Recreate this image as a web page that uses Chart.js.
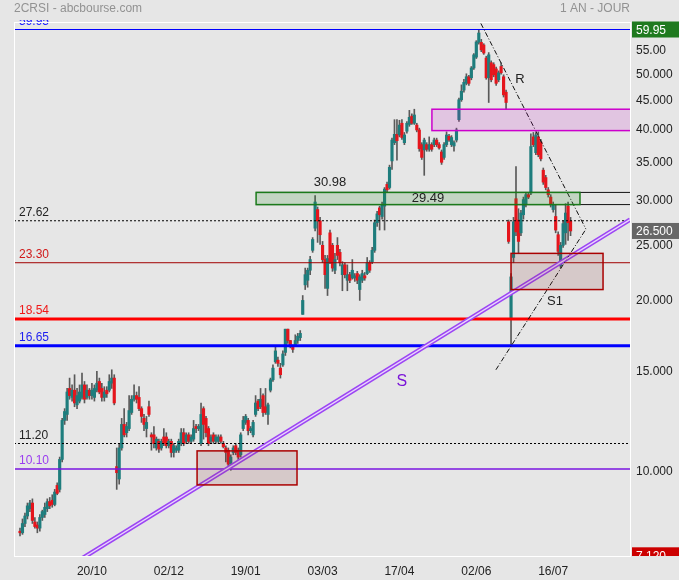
<!DOCTYPE html>
<html>
<head>
<meta charset="utf-8">
<title>2CRSI - abcbourse.com</title>
<script src="https://cdn.jsdelivr.net/npm/chart.js@4.4.1/dist/chart.umd.min.js"></script>
<style>
  html, body { margin: 0; padding: 0; background: #e6e6e6; }
  canvas { display: block; }
</style>
</head>
<body>
<canvas id="priceChart" width="679" height="580"></canvas>
<script>
// daily candles (one year, oldest first)
const open = [
  7.85, 7.80, 8.10, 8.35, 8.60, 8.80, 8.15, 8.05, 7.95, 8.30,
  8.40, 8.60, 8.85, 8.90, 8.75, 9.45, 9.30, 10.50, 12.30, 12.60,
  14.00, 13.50, 13.90, 13.10, 13.30, 13.50, 14.20, 13.50, 13.90, 13.60,
  13.50, 13.90, 14.40, 14.00, 13.50, 13.90, 13.90, 14.30, 14.60, 10.20,
  9.70, 11.00, 12.10, 11.70, 11.90, 12.70, 13.40, 13.60, 13.50, 12.90,
  12.40, 11.90, 13.00, 11.60, 11.60, 11.00, 11.30, 11.00, 11.50, 11.50,
  11.10, 11.30, 10.80, 10.90, 10.90, 11.20, 11.70, 11.30, 11.60, 11.30,
  11.40, 12.00, 11.90, 11.20, 12.90, 12.40, 11.90, 11.30, 11.60, 11.30,
  11.30, 11.50, 11.20, 11.00, 10.90, 10.30, 10.80, 11.10, 10.90, 10.70,
  11.90, 12.20, 12.30, 11.80, 11.60, 12.60, 13.30, 13.00, 13.60, 13.00,
  12.60, 13.90, 14.50, 15.60, 15.70, 15.20, 15.40, 16.20, 17.80, 17.00,
  16.60, 16.70, 17.00, 17.20, 18.90, 21.30, 21.70, 22.60, 24.50, 26.80,
  28.90, 27.60, 25.00, 23.60, 21.00, 26.30, 25.00, 22.60, 25.00, 24.30,
  22.20, 23.10, 21.70, 22.20, 21.90, 21.90, 22.30, 20.90, 21.70, 22.10,
  22.30, 23.30, 23.40, 24.50, 27.40, 29.10, 28.10, 29.30, 32.00, 31.60,
  35.20, 37.90, 39.20, 39.10, 41.00, 37.90, 39.70, 40.80, 42.20, 41.00,
  40.70, 39.90, 37.60, 36.80, 37.60, 36.90, 37.60, 37.60, 38.30, 37.60,
  36.50, 35.70, 37.60, 38.90, 37.60, 37.40, 38.30, 41.60, 45.10, 46.90,
  48.20, 49.50, 49.30, 51.30, 53.60, 56.90, 56.90, 56.30, 53.40, 49.30,
  52.40, 52.00, 51.10, 48.90, 51.60, 49.50, 46.50, 27.50, 18.60, 23.80,
  30.20, 27.70, 26.30, 28.30, 29.50, 30.70, 30.90, 38.80, 36.40, 38.80,
  38.00, 33.90, 32.90, 31.30, 30.40, 28.90, 28.10, 26.10, 23.00, 25.00,
  26.30, 29.30, 27.60
];
const high = [
  7.95, 8.25, 8.45, 8.80, 8.90, 8.95, 8.30, 8.15, 8.40, 8.55,
  8.80, 8.95, 9.00, 9.10, 9.30, 9.55, 10.60, 12.40, 12.90, 14.00,
  14.60, 14.20, 14.80, 14.00, 14.20, 14.90, 14.40, 14.20, 14.00, 14.30,
  14.20, 15.00, 14.60, 14.30, 14.10, 14.10, 14.80, 15.10, 14.80, 11.00,
  11.20, 12.40, 12.90, 12.20, 13.60, 13.60, 14.20, 13.80, 14.10, 13.00,
  12.60, 12.50, 13.30, 11.70, 12.00, 11.50, 11.40, 11.40, 11.90, 11.70,
  11.40, 11.40, 11.20, 11.10, 11.40, 11.90, 11.90, 11.70, 11.70, 11.60,
  12.30, 12.10, 12.10, 13.20, 13.00, 12.50, 12.00, 11.60, 11.70, 11.60,
  11.60, 11.60, 11.30, 11.10, 11.00, 10.70, 11.10, 11.20, 11.00, 11.70,
  12.50, 12.60, 12.40, 12.00, 12.30, 13.60, 13.40, 14.00, 13.70, 14.00,
  13.20, 14.60, 15.40, 16.60, 15.90, 15.50, 16.30, 17.80, 17.80, 17.00,
  16.70, 17.40, 17.50, 17.70, 20.40, 22.80, 22.80, 23.90, 25.80, 30.60,
  29.20, 28.00, 25.40, 24.00, 24.00, 26.60, 25.20, 24.20, 25.80, 24.60,
  23.40, 23.30, 23.10, 22.40, 23.60, 22.30, 22.50, 22.20, 22.60, 22.40,
  23.80, 23.50, 24.80, 27.70, 28.70, 29.30, 29.80, 31.60, 32.30, 34.60,
  38.60, 41.60, 41.60, 41.50, 41.60, 39.50, 41.30, 43.20, 42.60, 43.40,
  41.00, 40.20, 37.90, 38.60, 37.90, 38.80, 37.90, 38.60, 38.60, 37.90,
  36.80, 37.90, 39.60, 39.20, 39.00, 38.20, 40.20, 45.40, 47.90, 49.00,
  50.10, 49.80, 51.60, 54.40, 57.30, 59.95, 57.60, 56.60, 53.80, 54.60,
  52.80, 52.40, 51.50, 50.70, 52.40, 49.90, 46.90, 27.70, 22.30, 28.00,
  34.40, 29.00, 28.80, 30.40, 31.00, 30.90, 39.30, 39.50, 39.50, 39.60,
  38.40, 34.20, 33.20, 31.60, 30.70, 29.80, 29.50, 26.40, 25.30, 27.60,
  29.60, 29.80, 28.00
];
const low = [
  7.70, 7.75, 8.00, 8.25, 8.50, 8.10, 7.95, 7.80, 7.85, 8.20,
  8.30, 8.50, 8.60, 8.65, 8.70, 9.10, 9.20, 10.40, 12.10, 12.30,
  13.40, 13.30, 13.00, 12.90, 13.20, 13.40, 13.20, 13.40, 13.40, 13.40,
  13.30, 13.80, 13.70, 13.30, 13.30, 13.50, 13.80, 14.00, 13.10, 9.30,
  9.50, 10.90, 11.50, 11.50, 11.80, 12.60, 13.30, 13.20, 12.80, 12.20,
  11.80, 11.50, 12.50, 10.90, 11.00, 10.90, 10.80, 10.90, 11.10, 11.00,
  11.00, 10.60, 10.60, 10.80, 10.80, 11.10, 11.10, 11.20, 11.20, 11.20,
  11.30, 11.70, 11.80, 11.10, 11.40, 11.50, 11.10, 11.20, 11.20, 11.20,
  11.20, 11.20, 11.00, 10.40, 10.10, 10.05, 10.70, 10.70, 10.50, 10.60,
  11.80, 12.10, 11.60, 11.70, 11.50, 12.50, 12.80, 12.90, 12.50, 12.60,
  12.10, 13.80, 14.40, 15.50, 15.30, 14.60, 15.30, 16.00, 16.80, 16.50,
  16.20, 16.60, 16.80, 17.00, 18.90, 20.90, 21.10, 22.20, 24.30, 26.50,
  25.30, 25.10, 23.30, 21.00, 20.40, 23.20, 22.50, 22.30, 23.60, 23.00,
  20.80, 21.90, 20.80, 21.50, 21.80, 21.60, 21.40, 20.00, 21.50, 21.70,
  22.20, 22.40, 23.20, 24.30, 27.00, 26.60, 27.80, 26.60, 31.00, 31.40,
  34.00, 37.60, 35.30, 38.80, 38.40, 37.60, 39.40, 40.50, 40.80, 40.80,
  39.60, 36.60, 35.40, 33.20, 36.60, 36.60, 36.60, 37.30, 37.30, 36.90,
  34.70, 35.40, 37.30, 38.10, 37.30, 36.60, 38.00, 41.30, 44.80, 46.50,
  47.90, 47.80, 48.90, 51.00, 53.30, 56.50, 54.80, 54.20, 49.00, 44.60,
  48.50, 49.50, 47.80, 48.50, 50.00, 45.60, 43.30, 25.20, 16.60, 23.30,
  26.00, 24.20, 26.00, 27.80, 29.20, 30.20, 30.70, 37.30, 36.10, 35.80,
  35.20, 32.00, 31.30, 30.40, 29.20, 28.60, 26.30, 24.00, 22.80, 24.80,
  25.10, 25.50, 26.00
];
const close = [
  7.80, 8.10, 8.35, 8.70, 8.80, 8.20, 8.00, 7.95, 8.30, 8.50,
  8.65, 8.85, 8.70, 8.75, 9.20, 9.15, 10.50, 12.30, 12.75, 13.80,
  13.60, 13.90, 13.20, 13.60, 13.80, 14.20, 13.40, 13.90, 13.60, 13.90,
  14.00, 14.30, 13.80, 13.50, 13.80, 13.70, 14.40, 14.60, 13.20, 9.95,
  11.00, 12.10, 11.60, 12.00, 12.80, 13.40, 13.60, 13.40, 12.90, 12.50,
  12.10, 12.20, 12.60, 11.50, 11.20, 11.40, 10.95, 11.30, 11.20, 11.10,
  11.30, 10.80, 11.10, 11.00, 11.30, 11.70, 11.20, 11.60, 11.30, 11.50,
  11.90, 11.90, 12.00, 12.60, 12.10, 11.70, 11.20, 11.50, 11.30, 11.50,
  11.50, 11.30, 11.05, 10.80, 10.30, 10.60, 11.00, 10.80, 10.60, 11.60,
  12.30, 12.50, 11.80, 11.90, 12.20, 13.20, 12.90, 13.40, 12.70, 12.70,
  13.10, 14.50, 15.20, 16.30, 15.50, 14.80, 16.10, 17.80, 17.00, 16.70,
  16.40, 17.00, 17.30, 17.50, 20.00, 22.20, 22.60, 23.60, 25.60, 29.80,
  27.60, 26.10, 23.60, 22.20, 23.70, 23.40, 22.80, 23.60, 24.00, 23.30,
  23.10, 22.20, 22.20, 21.70, 22.60, 22.10, 21.70, 22.00, 22.30, 21.90,
  23.30, 22.60, 24.50, 27.40, 28.40, 28.30, 29.50, 31.40, 31.30, 34.30,
  38.30, 39.20, 38.20, 40.70, 38.70, 39.10, 41.00, 42.00, 41.00, 42.40,
  39.90, 37.00, 35.70, 38.30, 36.90, 37.60, 36.90, 38.30, 37.60, 37.10,
  35.00, 37.60, 39.10, 38.30, 38.70, 37.90, 39.90, 45.10, 46.70, 48.40,
  49.50, 48.20, 51.30, 54.10, 57.00, 59.10, 55.20, 54.50, 49.30, 54.10,
  48.90, 49.90, 48.20, 50.30, 50.30, 46.00, 44.60, 25.40, 22.00, 27.50,
  26.40, 25.40, 28.50, 30.10, 30.70, 30.40, 37.30, 37.60, 39.10, 36.10,
  35.50, 32.30, 31.60, 30.70, 29.50, 29.50, 26.60, 24.40, 25.00, 27.30,
  28.50, 27.40, 26.50
];

// axes
const dateTicks = [29, 60, 91, 122, 153, 184, 215];
const dateLabels = ['20/10', '02/12', '19/01', '03/03', '17/04', '02/06', '16/07'];
const priceTicks = [10, 15, 20, 25, 30, 35, 40, 45, 50, 55];
const priceLabels = ['10.000', '15.000', '20.000', '25.000', '30.000', '35.000', '40.000', '45.000', '50.000', '55.00'];

// horizontal levels drawn across the whole chart
const levelValues = [59.95, 27.62, 23.30, 18.54, 16.65, 11.20, 10.10];
const levelLabels = ['59.95', '27.62', '23.30', '18.54', '16.65', '11.20', '10.10'];

// the 29.49 / 30.98 band, starting at bar 95
const bandValues = [30.98, 29.49];
const bandStart = 95.2;

// shaded zones (bar index range, price range)
const zoneStart = [95.2, 166.1, 71.4, 198];
const zoneEnd = [225.8, 250, 111.7, 235.1];
const zoneLow = [29.49, 39.8, 9.47, 20.9];
const zoneHigh = [30.98, 43.4, 10.87, 24.2];

// trend lines (bar index, price)
const trendS = [{ x: 25, y: 7.03 }, { x: 246, y: 27.75 }];
const trendR = [{ x: 184, y: 63.7 }, { x: 228.2, y: 26.7 }];
const trendS1 = [{ x: 191.9, y: 15.1 }, { x: 228.2, y: 26.7 }];

// text notes on the chart (bar index, price)
const noteText = ['30.98', '29.49', 'R', 'S1', 'S'];
const noteX = [125, 164.5, 201.6, 215.7, 154];
const noteY = [32.3, 30.2, 49.0, 19.9, 14.4];

const lastPrice = 26.5;
const highPrice = 59.95;
const lowPrice = 7.12;

const X_MIN = -2.42, X_MAX = 245.97;
const Y_MIN = 7.1, Y_MAX = 61.8;

const TEAL = '#1e7d7d';
const RED = '#e5151c';
const FONT = '"Liberation Sans", Arial, sans-serif';

const levelColors = ['#0000ff', '#000000', '#a00000', '#ff0000', '#0000ff', '#000000', '#7a14e0'];
const levelWidths = [1.2, 1, 1, 3, 3, 1, 1.5];
const levelDash = [[], [2, 2], [], [], [], [2, 2], []];
const levelTextColors = ['#2020ff', '#222222', '#d01818', '#f01818', '#1c1cf0', '#222222', '#9a3cf0'];

const zoneFill = ['rgba(40,140,40,0.18)', 'rgba(200,0,200,0.14)', 'rgba(130,40,40,0.15)', 'rgba(130,40,40,0.15)'];
const zoneLine = ['#1a7a1a', '#cc00cc', '#aa0000', '#aa0000'];

const noteColors = ['#222', '#222', '#222', '#222', '#7a14d8'];
const noteFonts = ['13px', '13px', '13px', '13px', '16px'];

Chart.defaults.font.family = FONT;
Chart.defaults.font.size = 12;
Chart.defaults.color = '#333';

const idx = close.map((_, i) => i);

const datasets = [];

// candles: wicks then bodies
datasets.push({
  type: 'bar',
  data: idx.map(i => ({ x: i, y: [low[i], high[i]] })),
  backgroundColor: '#595959',
  barThickness: 1,
  grouped: false,
  order: 20
});
datasets.push({
  type: 'bar',
  data: idx.map(i => ({ x: i, y: [open[i], close[i]] })),
  backgroundColor: idx.map(i => close[i] >= open[i] ? TEAL : RED),
  barThickness: 2.5,
  minBarLength: 1,
  grouped: false,
  order: 19
});

levelValues.forEach((v, k) => {
  datasets.push({
    type: 'line',
    data: [{ x: X_MIN, y: v }, { x: X_MAX, y: v }],
    borderColor: levelColors[k],
    borderWidth: levelWidths[k],
    borderDash: levelDash[k],
    pointRadius: 0,
    order: 5
  });
});

bandValues.forEach(v => {
  datasets.push({
    type: 'line',
    data: [{ x: bandStart, y: v }, { x: X_MAX, y: v }],
    borderColor: '#111',
    borderWidth: 1,
    pointRadius: 0,
    order: 5
  });
});

// S support, drawn as a double line
datasets.push({ type: 'line', data: trendS, borderColor: '#9c45f4', borderWidth: 4.5, pointRadius: 0, order: 3 });
datasets.push({ type: 'line', data: trendS, borderColor: '#e9d6fc', borderWidth: 1.3, pointRadius: 0, order: 2 });

[trendR, trendS1].forEach(t => {
  datasets.push({
    type: 'line',
    data: t,
    borderColor: '#111',
    borderWidth: 1,
    borderDash: [5, 2, 1, 2],
    pointRadius: 0,
    order: 2
  });
});

const overlay = {
  id: 'overlay',
  afterDatasetsDraw(chart) {
    const { ctx, chartArea: a, scales: { x, y } } = chart;
    ctx.save();
    ctx.beginPath();
    ctx.rect(a.left, a.top - 2, a.right - a.left, a.bottom - a.top + 2);
    ctx.clip();

    // zones
    zoneStart.forEach((s, k) => {
      const x0 = x.getPixelForValue(s);
      const x1 = x.getPixelForValue(zoneEnd[k]);
      const y0 = y.getPixelForValue(zoneHigh[k]);
      const y1 = y.getPixelForValue(zoneLow[k]);
      ctx.fillStyle = zoneFill[k];
      ctx.fillRect(x0, y0, x1 - x0, y1 - y0);
      ctx.strokeStyle = zoneLine[k];
      ctx.lineWidth = 1.5;
      ctx.strokeRect(x0, y0, x1 - x0, y1 - y0);
    });

    // level labels on the left
    ctx.font = '12px ' + FONT;
    ctx.textAlign = 'left';
    ctx.textBaseline = 'bottom';
    levelValues.forEach((v, k) => {
      ctx.fillStyle = levelTextColors[k];
      ctx.fillText(levelLabels[k], a.left + 5, y.getPixelForValue(v) - 2);
    });

    // notes
    ctx.textAlign = 'center';
    ctx.textBaseline = 'middle';
    noteText.forEach((t, k) => {
      ctx.font = noteFonts[k] + ' ' + FONT;
      ctx.fillStyle = noteColors[k];
      ctx.fillText(t, x.getPixelForValue(noteX[k]), y.getPixelForValue(noteY[k]));
    });
    ctx.restore();
  },
  afterDraw(chart) {
    const { ctx, chartArea: a, scales: { y }, width } = chart;
    ctx.save();

    // white frame
    ctx.strokeStyle = '#ffffff';
    ctx.lineWidth = 1;
    ctx.strokeRect(a.left + 0.5, a.top + 0.5, a.right - a.left, a.bottom - a.top);

    // header
    ctx.font = '12px ' + FONT;
    ctx.fillStyle = '#929292';
    ctx.textBaseline = 'middle';
    ctx.textAlign = 'left';
    ctx.fillText('2CRSI - abcbourse.com', a.left, 9);
    ctx.textAlign = 'right';
    ctx.fillText('1 AN - JOUR', a.right, 9);

    // price tags on the right axis
    const tag = (v, color, text) => {
      const py = y.getPixelForValue(v);
      ctx.save();
      ctx.beginPath();
      ctx.rect(a.right + 1, 0, width - a.right, a.bottom);
      ctx.clip();
      ctx.fillStyle = color;
      ctx.fillRect(a.right + 2, py - 8, width - a.right - 2, 16);
      ctx.fillStyle = '#ffffff';
      ctx.textAlign = 'left';
      ctx.textBaseline = 'middle';
      ctx.font = '12px ' + FONT;
      ctx.fillText(text, a.right + 6, py + 1);
      ctx.restore();
    };
    tag(highPrice, '#1f7a1f', highPrice.toFixed(2));
    tag(lastPrice, '#676767', lastPrice.toFixed(3));
    tag(lowPrice, '#cc0000', lowPrice.toFixed(3));
    ctx.restore();
  }
};

new Chart(document.getElementById('priceChart'), {
  type: 'bar',
  data: { datasets },
  options: {
    responsive: false,
    animation: false,
    devicePixelRatio: 1,
    layout: { padding: { left: 14, top: 22, right: 0, bottom: 0 } },
    plugins: { legend: { display: false }, tooltip: { enabled: false } },
    scales: {
      x: {
        type: 'linear',
        position: 'bottom',
        min: X_MIN,
        max: X_MAX,
        offset: false,
        grid: { display: false, drawTicks: false },
        border: { display: false },
        afterBuildTicks: s => { s.ticks = dateTicks.map(v => ({ value: v })); },
        afterFit: s => { s.height = 24; },
        ticks: {
          autoSkip: false,
          maxRotation: 0,
          padding: 8,
          color: '#222',
          callback: v => dateLabels[dateTicks.indexOf(v)]
        }
      },
      y: {
        type: 'logarithmic',
        position: 'right',
        min: Y_MIN,
        max: Y_MAX,
        grid: { display: false, drawTicks: false },
        border: { display: false },
        afterBuildTicks: s => { s.ticks = priceTicks.map(v => ({ value: v })); },
        afterFit: s => { s.width = 49; },
        ticks: {
          autoSkip: false,
          padding: 6,
          color: '#222',
          callback: v => priceLabels[priceTicks.indexOf(v)]
        }
      }
    }
  },
  plugins: [overlay]
});
</script>
</body>
</html>
